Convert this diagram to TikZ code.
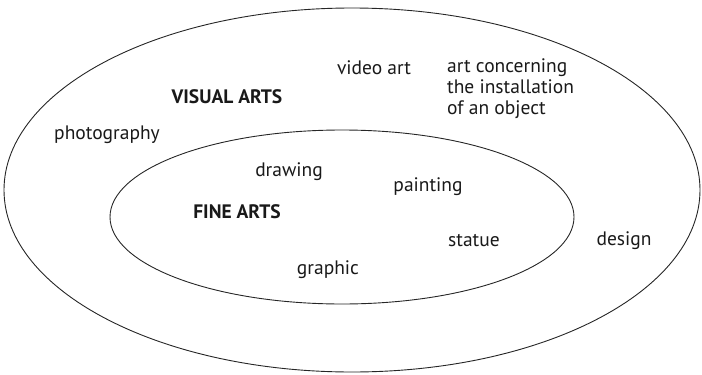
\documentclass[tikz,border=0pt]{standalone}
\usepackage{fontspec}
\setmainfont{PT Sans}
\begin{document}
\begin{tikzpicture}[x=1pt,y=-1pt,
  ring/.style={draw=black!85,line width=0.9pt},
  lbl/.style={font=\fontsize{19.5}{21}\selectfont,text=black!90,inner sep=0pt},
  head/.style={lbl,font=\fontsize{19.5}{21}\selectfont\bfseries}]
\useasboundingbox (0,0) rectangle (702,375);
\draw[ring] (352,190) ellipse [x radius=348, y radius=182];
\draw[ring] (342,217) ellipse [x radius=232, y radius=87];
\node[lbl] (video) at (374,68) {video art};
\node[lbl,align=left,anchor=west] (install) at (447,89) {art concerning\\the installation\\of an object};
\node[head] (visual) at (227,97) {VISUAL ARTS};
\node[lbl] (photo) at (107,135) {photography};
\node[lbl] (drawing) at (289,172) {drawing};
\node[lbl] (painting) at (428,187) {painting};
\node[head] (fine) at (237,212) {FINE ARTS};
\node[lbl] (statue) at (474,241) {statue};
\node[lbl] (design) at (624,241) {design};
\node[lbl] (graphic) at (328,270) {graphic};
\end{tikzpicture}
\end{document}
